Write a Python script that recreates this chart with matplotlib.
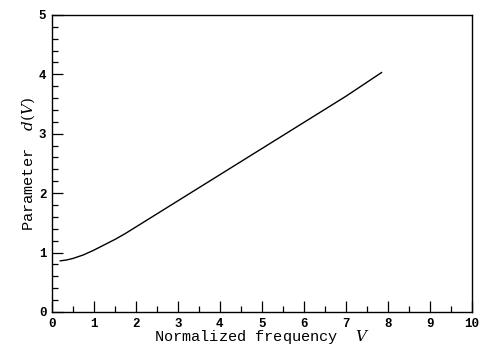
import matplotlib
matplotlib.use('Agg')
import matplotlib.pyplot as plt
from matplotlib.ticker import MultipleLocator

# values
V = [0.2, 0.35, 0.5, 0.75, 1.0, 1.25, 1.5, 1.75, 2.0, 2.5, 3.0, 4.0, 5.0, 6.0, 7.0, 7.85]
d = [0.86, 0.875, 0.90, 0.96, 1.04, 1.13, 1.22, 1.32, 1.43, 1.65, 1.87, 2.31, 2.75, 3.19, 3.63, 4.03]

plt.rcParams['font.family'] = ['Liberation Mono', 'DejaVu Sans Mono']
plt.rcParams['mathtext.fontset'] = 'dejavuserif'

fig = plt.figure(figsize=(4.8, 3.47), dpi=100)
ax = fig.add_axes([0.108, 0.101, 0.875, 0.856])

ax.plot(V, d, color='black', linewidth=1.0)

ax.set_xlim(0, 10)
ax.set_ylim(0, 5)
ax.xaxis.set_major_locator(MultipleLocator(1))
ax.xaxis.set_minor_locator(MultipleLocator(0.5))
ax.yaxis.set_major_locator(MultipleLocator(1))
ax.yaxis.set_minor_locator(MultipleLocator(0.2))
ax.tick_params(which='both', direction='in', width=0.9, labelsize=9)
ax.tick_params(which='major', length=8, pad=4)
ax.tick_params(which='minor', length=4)
for lbl in ax.get_xticklabels() + ax.get_yticklabels():
    lbl.set_fontweight('bold')
for s in ax.spines.values():
    s.set_linewidth(1.0)

ax.set_xlabel('Normalized frequency  $V$', fontsize=11, labelpad=-1)
ax.set_ylabel('Parameter  $d(V)$', fontsize=11, labelpad=1)

fig.savefig('out.png', dpi=100)
